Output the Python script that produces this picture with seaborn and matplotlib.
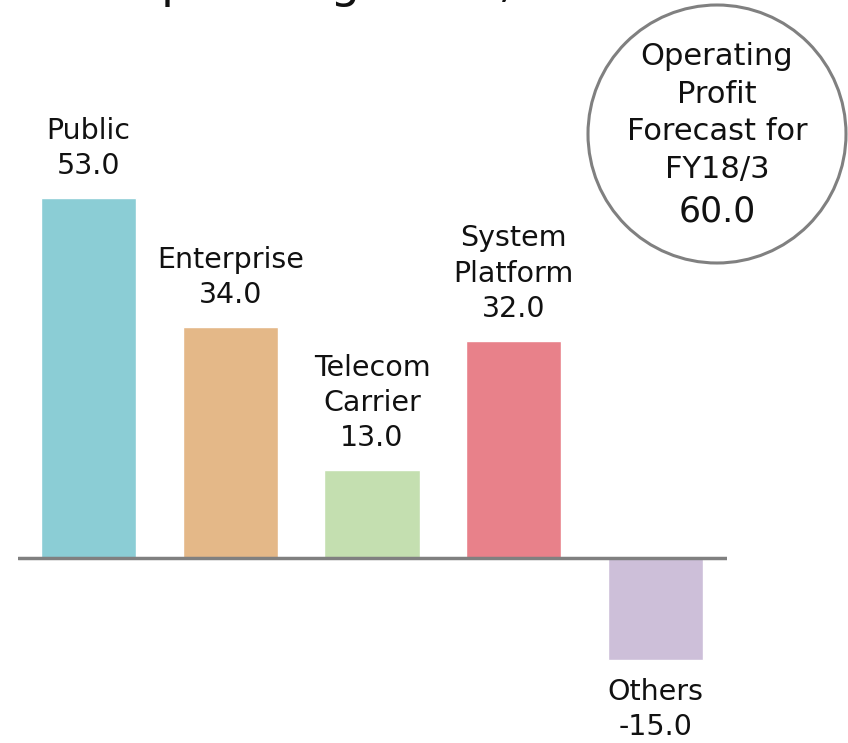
import matplotlib
matplotlib.use("Agg")
import matplotlib.pyplot as plt
import seaborn as sns
import pandas as pd
from matplotlib.patches import Ellipse

# data
segments = ["Public", "Enterprise", "Telecom Carrier", "System Platform", "Others"]
labels = ["Public", "Enterprise", "Telecom\nCarrier", "System\nPlatform", "Others"]
profit = [53.0, 34.0, 13.0, 32.0, -15.0]
colors = ["#8bcdd5", "#e4b888", "#c4dfb0", "#e8818a", "#cdbfd9"]
forecast_total = 60.0

sns.set_theme(style="white")
plt.rcParams["font.family"] = ["DejaVu Sans"]
plt.rcParams["text.color"] = "#111111"

df = pd.DataFrame({"segment": segments, "profit": profit})

fig = plt.figure(figsize=(8.48, 7.43), dpi=100)
ax = fig.add_axes([17.5 / 848, 0, 709 / 848, 1])

sns.barplot(data=df, x="segment", y="profit", hue="segment",
            palette=colors, width=0.67, legend=False, ax=ax,
            saturation=1, zorder=2)

ax.set_xlim(-0.5, 4.5)
ax.set_ylim(-27.24, 82.15)
ax.axhline(0, color="#808080", lw=2.5, zorder=3)
for s in ax.spines.values():
    s.set_visible(False)
ax.set_xticks([])
ax.set_yticks([])
ax.set_xlabel("")
ax.set_ylabel("")

for i, (lab, v) in enumerate(zip(labels, profit)):
    txt = f"{lab}\n{v:.1f}"
    if v >= 0:
        ax.annotate(txt, (i, v), xytext=(0, 13), textcoords="offset points",
                    ha="center", va="bottom", fontsize=20.5, linespacing=1.32)
    else:
        ax.annotate(txt, (i, v), xytext=(0, -13), textcoords="offset points",
                    ha="center", va="top", fontsize=20.5, linespacing=1.32)

# title, cut off by the top edge in the reference
fig.text(124 / 848, 1 + 3 / 743, "Operating Profit, Forecast", fontsize=34,
         ha="left", va="baseline")

# forecast bubble
circ = Ellipse((717 / 848, 1 - 134 / 743), 258 / 848, 258 / 743,
               transform=fig.transFigure, facecolor="white",
               edgecolor="#808080", lw=2.2, zorder=5)
fig.add_artist(circ)
fig.text(717 / 848, 1 - 113 / 743, "Operating\nProfit\nForecast for\nFY18/3",
         ha="center", va="center", fontsize=22, linespacing=1.38, zorder=6)
fig.text(717 / 848, 1 - 211 / 743, f"{forecast_total:.1f}",
         ha="center", va="center", fontsize=25, zorder=6)

fig.savefig("out.png", dpi=100)
